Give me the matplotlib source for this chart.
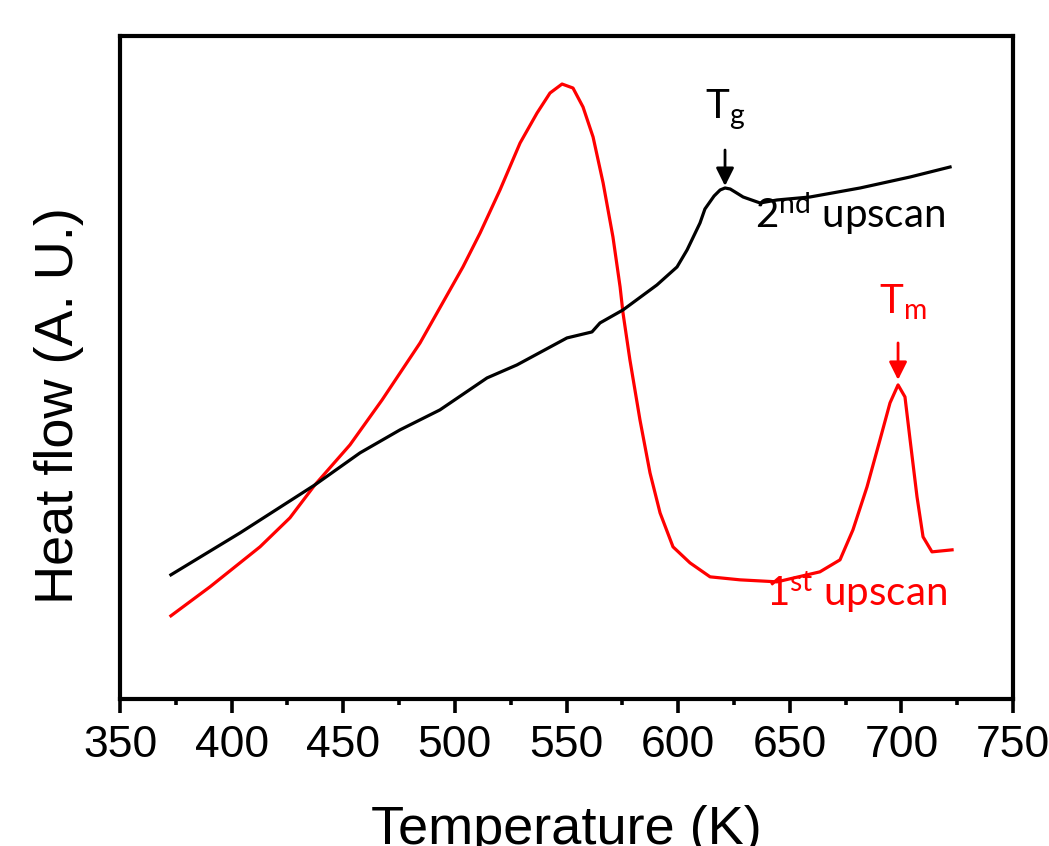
import matplotlib
matplotlib.use('Agg')
from matplotlib import pyplot as plt
from matplotlib.ticker import MultipleLocator

# DSC traces, temperature (K) vs heat flow (arbitrary units)
temp_2nd = [372.8, 403.8, 437.3, 457.5, 475.4, 493.3, 514.4, 527.8, 550.2, 561.4,
            565.0, 575.3, 590.5, 599.5, 604.0, 609.8, 612.0, 616.1, 618.8, 621.0,
            623.3, 625.5, 629.1, 636.7, 644.3, 659.1, 681.5, 703.9, 721.8]
flow_2nd = [1.22, 1.64, 2.12, 2.44, 2.67, 2.87, 3.19, 3.32, 3.59, 3.65,
            3.74, 3.87, 4.12, 4.30, 4.47, 4.74, 4.88, 5.01, 5.07, 5.09,
            5.08, 5.05, 5.00, 4.94, 4.97, 5.00, 5.09, 5.20, 5.30]

temp_1st = [372.8, 390.3, 412.7, 426.1, 437.3, 453.0, 467.4, 484.4, 503.6, 511.3,
            520.2, 529.2, 536.8, 542.6, 548.0, 552.9, 557.4, 561.9, 566.4, 570.8,
            574.0, 575.3, 578.4, 582.9, 587.4, 591.9, 597.7, 605.3, 614.3, 627.7,
            644.3, 663.5, 672.5, 678.3, 684.6, 690.4, 694.9, 698.5, 701.6, 703.9,
            707.0, 709.7, 713.7, 722.7]
flow_1st = [0.81, 1.10, 1.50, 1.79, 2.12, 2.52, 2.97, 3.54, 4.30, 4.64,
            5.07, 5.54, 5.84, 6.04, 6.13, 6.09, 5.90, 5.60, 5.14, 4.60,
            4.10, 3.84, 3.37, 2.77, 2.24, 1.84, 1.50, 1.34, 1.20, 1.17,
            1.15, 1.25, 1.37, 1.67, 2.10, 2.57, 2.94, 3.12, 3.00, 2.57,
            2.00, 1.60, 1.45, 1.47]

Tg = 621.0   # glass transition
Tm = 698.5   # melting peak

plt.rcParams['font.family'] = ['Liberation Sans', 'DejaVu Sans']
plt.rcParams['mathtext.fontset'] = 'custom'
plt.rcParams['mathtext.rm'] = 'Lato'

fig = plt.figure(figsize=(10.49, 8.46), dpi=100)
ax = fig.add_axes([0.1144, 0.174, 0.8513, 0.7834])

ax.plot(temp_1st, flow_1st, color='#ff0000', lw=2.3)
ax.plot(temp_2nd, flow_2nd, color='black', lw=2.3)

ax.set_xlim(350, 750)
ax.set_ylim(-0.02, 6.61)
ax.xaxis.set_major_locator(MultipleLocator(50))
ax.xaxis.set_minor_locator(MultipleLocator(25))
ax.set_yticks([])
ax.tick_params(axis='x', which='major', direction='out', length=10, width=2.6,
               labelsize=32, pad=9)
ax.tick_params(axis='x', which='minor', direction='out', length=4.5, width=2.6)
for s in ax.spines.values():
    s.set_linewidth(3)

ax.set_xlabel('Temperature (K)', fontsize=39)
ax.xaxis.set_label_coords(0.5, -0.16)
ax.set_ylabel('Heat flow (A. U.)', fontsize=39)
ax.yaxis.set_label_coords(-0.04, 0.443)

# peak markers
tg_peak = flow_2nd[temp_2nd.index(Tg)]
ax.annotate('', xy=(Tg, tg_peak + 0.02), xytext=(Tg, tg_peak + 0.38),
            arrowprops=dict(arrowstyle='-|>', color='black', lw=2,
                            mutation_scale=27, shrinkA=0, shrinkB=0))
ax.text(Tg, 5.79, r'T$_\mathregular{g}$', fontsize=29, family='Lato',
        ha='center', va='baseline', color='black')

tm_peak = flow_1st[temp_1st.index(Tm)]
ax.annotate('', xy=(Tm, tm_peak + 0.05), xytext=(Tm, tm_peak + 0.42),
            arrowprops=dict(arrowstyle='-|>', color='#ff0000', lw=2,
                            mutation_scale=27, shrinkA=0, shrinkB=0))
ax.text(Tm + 2, 3.84, r'T$_\mathregular{m}$', fontsize=29, family='Lato',
        ha='center', va='baseline', color='#ff0000')

ax.text(634.4, 4.69, r'$\mathregular{2^{nd}}$ upscan', fontsize=29, family='Lato',
        ha='left', va='baseline', color='black')
ax.text(639.5, 0.90, r'$\mathregular{1^{st}}$ upscan', fontsize=29, family='Lato',
        ha='left', va='baseline', color='#ff0000')

fig.savefig('out.png', dpi=100)
